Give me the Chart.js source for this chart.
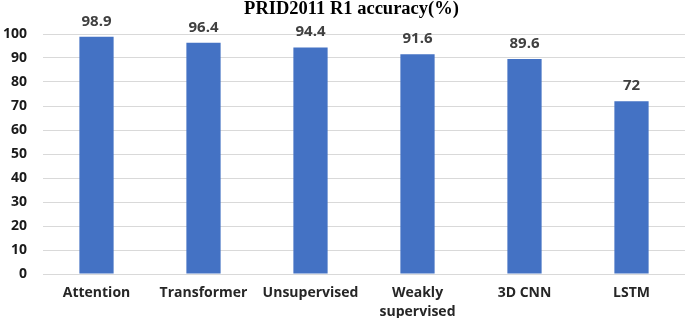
<!DOCTYPE html>
<html>
<head>
<meta charset="utf-8">
<script src="https://cdn.jsdelivr.net/npm/chart.js@4/dist/chart.umd.min.js"></script>
<style>
  html, body { margin: 0; padding: 0; background: #ffffff; }
  #wrap { position: relative; width: 685px; height: 318px; }
</style>
</head>
<body>
<div id="wrap"><canvas id="c" width="685" height="318"></canvas></div>
<script>
const categories = ["Attention", "Transformer", "Unsupervised", ["Weakly", "supervised"], "3D CNN", "LSTM"];
const accuracy = [98.9, 96.4, 94.4, 91.6, 89.6, 72];
const yTicks = [0, 10, 20, 30, 40, 50, 60, 70, 80, 90, 100];
const titleText = "PRID2011 R1 accuracy(%)";

const valueLabels = {
  id: 'valueLabels',
  afterDatasetsDraw(chart) {
    const ctx = chart.ctx;
    const meta = chart.getDatasetMeta(0);
    ctx.save();
    ctx.font = 'bold 15px "Open Sans", Lato, sans-serif';
    ctx.fillStyle = '#404040';
    ctx.textAlign = 'center';
    ctx.textBaseline = 'alphabetic';
    meta.data.forEach((bar, i) => {
      ctx.fillText(String(accuracy[i]), bar.x, bar.y - 11);
    });
    ctx.restore();
  }
};

const titleDraw = {
  id: 'titleDraw',
  afterDraw(chart) {
    const ctx = chart.ctx;
    ctx.save();
    ctx.font = 'bold 18.5px "Liberation Serif", "Times New Roman", serif';
    ctx.fillStyle = '#000000';
    ctx.textAlign = 'center';
    ctx.textBaseline = 'alphabetic';
    const cx = chart.width / 2 + 9;
    ctx.fillText(titleText, cx, 13.5);
    ctx.restore();
  }
};

new Chart(document.getElementById('c'), {
  type: 'bar',
  data: {
    labels: categories,
    datasets: [{
      data: accuracy,
      backgroundColor: '#4472C4',
      borderWidth: 0,
      barPercentage: 0.64,
      categoryPercentage: 0.5
    }]
  },
  options: {
    responsive: false,
    animation: false,
    layout: { padding: { left: 0, right: 0, top: 34, bottom: 0 } },
    plugins: {
      legend: { display: false },
      tooltip: { enabled: false },
      title: { display: false }
    },
    scales: {
      x: {
        grid: { display: false, drawTicks: false },
        border: { display: true, color: '#d9d9d9', width: 1 },
        ticks: {
          color: '#262626',
          padding: 9,
          maxRotation: 0,
          autoSkip: false,
          font: { family: '"Open Sans", Lato, sans-serif', size: 14, weight: 'bold', lineHeight: 1.36 }
        },
        afterFit(scale) { scale.height = 44; }
      },
      y: {
        min: 0,
        max: 100,
        afterBuildTicks(scale) { scale.ticks = yTicks.map(v => ({ value: v })); },
        grid: { color: '#d9d9d9', lineWidth: 1, drawTicks: false },
        border: { display: false },
        ticks: {
          color: '#1a1a1a',
          padding: 16,
          font: { family: '"Open Sans", Lato, sans-serif', size: 14, weight: 'bold' }
        },
        afterFit(scale) { scale.width = 43; }
      }
    }
  },
  plugins: [valueLabels, titleDraw]
});
</script>
</body>
</html>
